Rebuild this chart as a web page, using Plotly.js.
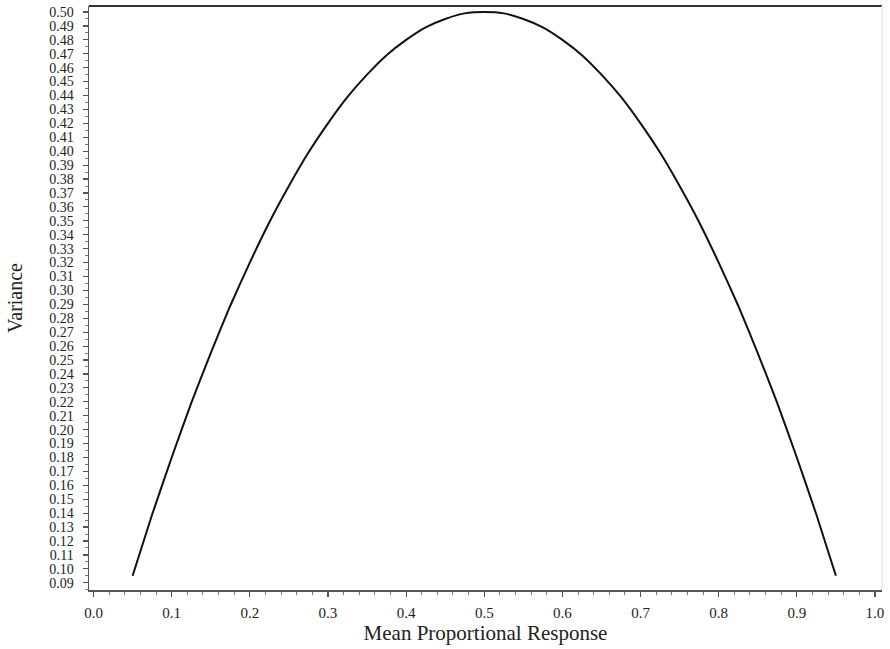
<!DOCTYPE html>
<html>
<head>
<meta charset="utf-8">
<script src="https://cdn.plot.ly/plotly-3.0.1.min.js"></script>
<style>html,body{margin:0;padding:0;background:#fff;}#chart{width:890px;height:649px;}</style>
</head>
<body>
<div id="chart"></div>
<script>
// Mean proportional response (x) and variance (y)
var meanResponse = [0.05, 0.075, 0.10, 0.125, 0.15, 0.175, 0.20, 0.225, 0.25, 0.275, 0.30, 0.325, 0.35, 0.375, 0.40, 0.425, 0.45, 0.475, 0.50,
                    0.525, 0.55, 0.575, 0.60, 0.625, 0.65, 0.675, 0.70, 0.725, 0.75, 0.775, 0.80, 0.825, 0.85, 0.875, 0.90, 0.925, 0.95];
var variance = [0.095, 0.139, 0.180, 0.219, 0.255, 0.289, 0.320, 0.349, 0.375, 0.399, 0.420, 0.439, 0.455, 0.469, 0.480, 0.489, 0.495, 0.499, 0.500,
                0.499, 0.495, 0.489, 0.480, 0.469, 0.455, 0.439, 0.420, 0.399, 0.375, 0.349, 0.320, 0.289, 0.255, 0.219, 0.180, 0.139, 0.095];
var xTickVals = [0.0, 0.1, 0.2, 0.3, 0.4, 0.5, 0.6, 0.7, 0.8, 0.9, 1.0];
var xTickText = ["0.0", "0.1", "0.2", "0.3", "0.4", "0.5", "0.6", "0.7", "0.8", "0.9", "1.0"];
var yTickVals = [];
var yTickText = [];
for (var i = 9; i <= 50; i++) { yTickVals.push(i / 100); yTickText.push((i / 100).toFixed(2)); }

var font = "Liberation Serif, Times New Roman, serif";

var trace = {
  x: meanResponse, y: variance, type: "scatter", mode: "lines",
  line: {color: "#111", width: 2, shape: "spline", smoothing: 0.5},
  hoverinfo: "skip"
};

var layout = {
  width: 890, height: 649,
  margin: {l: 89, r: 8, t: 6, b: 59},
  paper_bgcolor: "#fff", plot_bgcolor: "#fff",
  showlegend: false,
  font: {family: font, color: "#222", size: 14},
  xaxis: {
    range: [-0.0058, 1.009],
    tickvals: xTickVals, ticktext: xTickText,
    ticks: "outside", ticklen: 5, tickwidth: 1.2, tickcolor: "#555",
    minor: {dtick: 0.02, tick0: 0, ticks: "outside", ticklen: 3, tickwidth: 1, tickcolor: "#777"},
    showline: true, linecolor: "#555", linewidth: 1.5,
    showgrid: false, zeroline: false,
    tickfont: {family: font, size: 15, color: "#222"},
    ticklabelstandoff: 3,
    title: {text: "Mean Proportional Response", font: {family: font, size: 21, color: "#222"}, standoff: 6}
  },
  yaxis: {
    range: [0.0848, 0.5043],
    tickvals: yTickVals, ticktext: yTickText,
    ticks: "outside", ticklen: 5, tickwidth: 1.2, tickcolor: "#555",
    minor: {dtick: 0.005, tick0: 0, ticks: "outside", ticklen: 3, tickwidth: 1, tickcolor: "#777"},
    showline: true, linecolor: "#555", linewidth: 1.5,
    showgrid: false, zeroline: false,
    tickfont: {family: font, size: 14, color: "#222"},
    ticklabelstandoff: 6,
    title: {text: "Variance", font: {family: font, size: 20, color: "#222"}, standoff: 21}
  },
  shapes: [
    {type: "line", xref: "paper", yref: "paper", x0: 0, x1: 1, y0: 1, y1: 1, line: {color: "#333", width: 2}},
    {type: "line", xref: "paper", yref: "paper", x0: 1, x1: 1, y0: 0, y1: 1, line: {color: "#e6e6e6", width: 1.5}}
  ]
};

Plotly.newPlot("chart", [trace], layout, {staticPlot: true, displayModeBar: false});
</script>
</body>
</html>
